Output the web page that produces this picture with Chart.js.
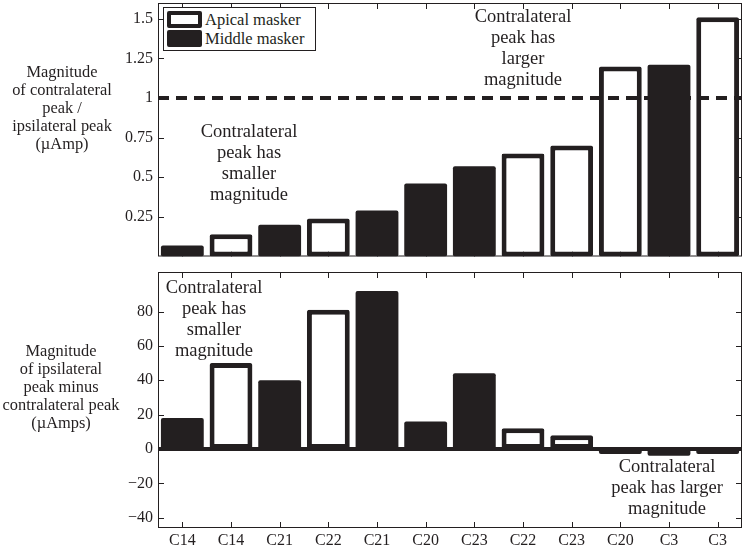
<!DOCTYPE html>
<html>
<head>
<meta charset="utf-8">
<script src="https://cdn.jsdelivr.net/npm/chart.js"></script>
<style>
    body { margin: 0; background: #fff; }
    #wrap { position: relative; width: 745px; height: 549px; overflow: hidden;
            font-family: "Liberation Serif", "Times New Roman", serif; color: #231f20; }
    #wrap canvas { position: absolute; left: 0; }
    .note { position: absolute; text-align: center; font-size: 18.5px; line-height: 21px;
            white-space: nowrap; transform: translateX(-50%); }
    .title { font-size: 16.4px; line-height: 18px; }
    #legend { position: absolute; left: 163px; top: 7px; width: 153px; height: 44px;
              box-sizing: border-box; border: 1px solid #231f20; background: #fff; font-size: 16.5px; }
    #legend .row { position: absolute; left: 3px; height: 18px; line-height: 18px; white-space: nowrap; }
    #legend .sw { display: inline-block; width: 35px; height: 17px; box-sizing: border-box;
                  vertical-align: top; margin-right: 3px; border: 4px solid #231f20; border-radius: 2px; }
</style>
</head>
<body>
<div id="wrap">
    <canvas id="ratioChart" width="745" height="262" style="top:0"></canvas>
    <canvas id="diffChart" width="745" height="287" style="top:262px"></canvas>

    <div id="legend">
        <div class="row" style="top:3px"><span class="sw"></span>Apical masker</div>
        <div class="row" style="top:22px"><span class="sw" style="background:#231f20"></span>Middle masker</div>
    </div>

    <div class="note title" style="left:62px; top:63px">Magnitude<br>of contralateral<br>peak /<br>ipsilateral peak<br>(µAmp)</div>
    <div class="note title" style="left:61px; top:342px">Magnitude<br>of ipsilateral<br>peak minus<br>contralateral peak<br>(µAmps)</div>

    <div class="note" style="left:523px; top:6px">Contralateral<br>peak has<br>larger<br>magnitude</div>
    <div class="note" style="left:249px; top:121px">Contralateral<br>peak has<br>smaller<br>magnitude</div>
    <div class="note" style="left:214px; top:277px">Contralateral<br>peak has<br>smaller<br>magnitude</div>
    <div class="note" style="left:667px; top:456px">Contralateral<br>peak has larger<br>magnitude</div>
</div>

<script>
const channels = ['C14', 'C14', 'C21', 'C22', 'C21', 'C20', 'C23', 'C22', 'C23', 'C20', 'C3', 'C3'];

// A = apical masker (open bar), M = middle masker (filled bar)
const ratioKind = ['M', 'A', 'M', 'A', 'M', 'M', 'M', 'A', 'A', 'A', 'M', 'A'];
const ratioValues = [0.07, 0.14, 0.2, 0.24, 0.29, 0.46, 0.57, 0.65, 0.7, 1.2, 1.21, 1.51];
const ratioTicks = [0.25, 0.5, 0.75, 1, 1.25, 1.5];
const ratioRef = 1;

const diffKind = ['M', 'A', 'M', 'A', 'M', 'M', 'M', 'A', 'A', 'M', 'M', 'M'];
const diffValues = [18, 50, 40, 81, 92, 16, 44, 12, 8, -3, -4, -3];
const diffTicks = [-40, -20, 0, 20, 40, 60, 80];

const ink = '#231f20';
const serif = 'Liberation Serif';

function tickText(v) {
    return v < 0 ? '\u2212' + (-v) : String(v);
}

// box around the plot with inward ticks on every side, plus a level line
function framePlugin(level, dash) {
    return {
        id: 'frame',
        beforeDatasetsDraw(chart) {
            const { ctx, chartArea: a, scales: { x, y } } = chart;
            ctx.save();
            ctx.strokeStyle = ink;
            ctx.lineWidth = 1;
            ctx.strokeRect(a.left + 0.5, a.top + 0.5, a.right - a.left - 1, a.bottom - a.top - 1);
            ctx.beginPath();
            y.ticks.forEach(t => {
                const py = Math.round(y.getPixelForValue(t.value)) + 0.5;
                ctx.moveTo(a.left, py); ctx.lineTo(a.left + 6, py);
                ctx.moveTo(a.right, py); ctx.lineTo(a.right - 6, py);
            });
            x.ticks.forEach((t, i) => {
                const px = Math.round(x.getPixelForValue(i)) + 0.5;
                ctx.moveTo(px, a.top); ctx.lineTo(px, a.top + 6);
                ctx.moveTo(px, a.bottom); ctx.lineTo(px, a.bottom - 6);
            });
            ctx.stroke();
            ctx.restore();
        },
        afterDatasetsDraw(chart) {
            const { ctx, chartArea: a, scales: { y } } = chart;
            const py = y.getPixelForValue(level);
            ctx.save();
            ctx.strokeStyle = ink;
            ctx.lineWidth = 4;
            ctx.setLineDash(dash);
            ctx.beginPath();
            ctx.moveTo(a.left, py);
            ctx.lineTo(a.right, py);
            ctx.stroke();
            ctx.restore();
        }
    };
}

function barSet(values, kind) {
    return {
        data: values,
        backgroundColor: c => kind[c.dataIndex] === 'A' ? '#ffffff' : ink,
        borderColor: ink,
        borderWidth: c => kind[c.dataIndex] === 'A' ? 5 : 0,
        borderSkipped: false,
        borderRadius: 2,
        barPercentage: 0.88,
        categoryPercentage: 1
    };
}

function yAxis(min, max, ticks) {
    return {
        min: min,
        max: max,
        grid: { display: false, drawTicks: false },
        border: { display: false },
        afterBuildTicks: s => { s.ticks = ticks.map(v => ({ value: v })); },
        afterFit: s => { s.width = 158; s.paddingTop = 0; s.paddingBottom = 0; },
        ticks: {
            padding: 5,
            color: ink,
            font: { family: serif, size: 16 },
            callback: v => tickText(v)
        }
    };
}

new Chart('ratioChart', {
    type: 'bar',
    data: { labels: channels, datasets: [barSet(ratioValues, ratioKind)] },
    options: {
        responsive: false,
        animation: false,
        layout: { padding: { top: 3, right: 3, bottom: 5.5, left: 0 } },
        plugins: { legend: { display: false }, tooltip: { enabled: false } },
        scales: {
            x: { display: false },
            y: yAxis(0, 1.6, ratioTicks)
        }
    },
    plugins: [framePlugin(ratioRef, [11, 7])]
});

new Chart('diffChart', {
    type: 'bar',
    data: { labels: channels, datasets: [barSet(diffValues, diffKind)] },
    options: {
        responsive: false,
        animation: false,
        layout: { padding: { top: 10, right: 3, bottom: 0, left: 0 } },
        plugins: { legend: { display: false }, tooltip: { enabled: false } },
        scales: {
            x: {
                grid: { display: false, drawTicks: false },
                border: { display: false },
                afterFit: s => { s.height = 21; s.paddingLeft = 0; s.paddingRight = 0; },
                ticks: { padding: 3, color: ink, maxRotation: 0, font: { family: serif, size: 16 } }
            },
            y: yAxis(-46, 103, diffTicks)
        }
    },
    plugins: [framePlugin(0, [])]
});
</script>
</body>
</html>
